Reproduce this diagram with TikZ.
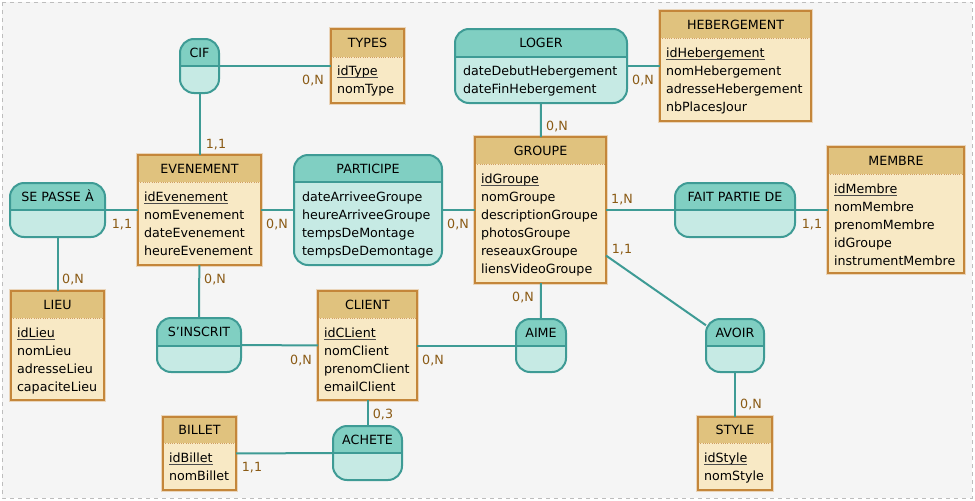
\documentclass[tikz,border=0pt]{standalone}
\usepackage{fontspec}
\setmainfont{DejaVu Sans}

\definecolor{bgc}{HTML}{F5F5F5}
\definecolor{framec}{HTML}{BDBDBD}
\definecolor{enthd}{HTML}{E0C27E}
\definecolor{entbd}{HTML}{F8E9C5}
\definecolor{entln}{HTML}{C4863A}
\definecolor{asshd}{HTML}{80CFC2}
\definecolor{assbd}{HTML}{C6EAE4}
\definecolor{assln}{HTML}{3E9B95}
\definecolor{cardc}{HTML}{8A5A14}

\tikzset{
  txt/.style={inner sep=0pt, outer sep=0pt, font=\fontsize{9.5pt}{11pt}\selectfont,
              text height=6.9pt, text depth=0pt, text=black},
  ttl/.style={txt},
  att/.style={txt, anchor=west},
  card/.style={txt, text=cardc},
  ulst/.style={draw=black!70, line width=0.8pt},
  link/.style={draw=assln, line width=1.5pt},
  boxref/.style={inner sep=0pt, outer sep=0pt, draw=none},
}

% entity: name, x1, y1, x2, y2, header bottom, title
\newcommand\entity[7]{%
  \node[boxref, minimum width={(#4-#2)*0.75pt}, minimum height={(#5-#3)*0.75pt}]
       (#1) at ({(#2+#4)/2},{(#3+#5)/2}) {};
  \draw[entln!35, line width=3pt] (#2,#3) rectangle (#4,#5);
  \fill[entbd] (#2,#3) rectangle (#4,#5);
  \fill[enthd] (#2,#3) rectangle (#4,#6);
  \draw[entln!80, densely dotted, line width=0.7pt] (#2,#6) -- (#4,#6);
  \draw[entln, line width=1.5pt] (#2,#3) rectangle (#4,#5);
  \node[ttl] (#1-t) at ({(#2+#4)/2},{(#3+#6)/2}) {#7};
}

% association: name, x1, y1, x2, y2, divider, title
\newcommand\assoc[7]{%
  \node[boxref, minimum width={(#4-#2)*0.75pt}, minimum height={(#5-#3)*0.75pt}]
       (#1) at ({(#2+#4)/2},{(#3+#5)/2}) {};
  \fill[assbd, rounded corners=10.5pt] (#2,#3) rectangle (#4,#5);
  \begin{scope}
    \clip[rounded corners=10.5pt] (#2,#3) rectangle (#4,#5);
    \fill[asshd] (#2,#3) rectangle (#4,#6);
  \end{scope}
  \draw[assln, line width=0.8pt] (#2,#6) -- (#4,#6);
  \draw[assln, line width=1.5pt, rounded corners=10.5pt] (#2,#3) rectangle (#4,#5);
  \node[ttl] (#1-t) at ({(#2+#4)/2},{(#3+#6)/2}) {#7};
}

% identifier attribute (underlined): name, x, y, text
\newcommand\idattr[4]{%
  \node[att] (#1) at (#2,#3) {#4};
  \draw[ulst] ([yshift=-1.4pt]#1.base west) -- ([yshift=-1.4pt]#1.base east);
}

\begin{document}
\begin{tikzpicture}[x=0.75pt,y=-0.75pt]
\useasboundingbox (0,0) rectangle (975,500);
\fill[white] (0,0) rectangle (975,500);
\filldraw[fill=bgc, draw=framec, dashed, line width=0.6pt] (2,2) rectangle (972,498);

% ---- entities ----
\entity{ev}{138}{155}{261}{265}{182}{EVENEMENT}
\idattr{ev-a1}{144}{197}{idEvenement\ }
\node[att] (ev-a2) at (144,215) {nomEvenement};
\node[att] (ev-a3) at (144,233) {dateEvenement};
\node[att] (ev-a4) at (144,251) {heureEvenement};

\entity{types}{331}{29}{404}{103}{57}{TYPES}
\idattr{ty-a1}{337}{71}{idType}
\node[att] (ty-a2) at (337,89) {nomType};

\entity{heb}{660}{11}{811}{121}{38}{HEBERGEMENT}
\idattr{hb-a1}{666}{53}{idHebergement\ }
\node[att] (hb-a2) at (666,71) {nomHebergement};
\node[att] (hb-a3) at (666,89) {adresseHebergement};
\node[att] (hb-a4) at (666,107) {nbPlacesJour};

\entity{grp}{475}{137}{606}{283}{164}{GROUPE}
\idattr{gr-a1}{481}{179}{idGroupe\ }
\node[att] (gr-a2) at (481,197) {nomGroupe};
\node[att] (gr-a3) at (481,215) {descriptionGroupe};
\node[att] (gr-a4) at (481,233) {photosGroupe};
\node[att] (gr-a5) at (481,251) {reseauxGroupe};
\node[att] (gr-a6) at (481,269) {liensVideoGroupe};

\entity{mem}{828}{147}{964}{273}{174}{MEMBRE}
\idattr{me-a1}{834}{189}{idMembre\ }
\node[att] (me-a2) at (834,207) {nomMembre};
\node[att] (me-a3) at (834,225) {prenomMembre};
\node[att] (me-a4) at (834,243) {idGroupe};
\node[att] (me-a5) at (834,261) {instrumentMembre};

\entity{lieu}{11}{291}{104}{400}{318}{LIEU}
\idattr{li-a1}{17}{333}{idLieu\ }
\node[att] (li-a2) at (17,351) {nomLieu};
\node[att] (li-a3) at (17,369) {adresseLieu};
\node[att] (li-a4) at (17,387) {capaciteLieu};

\entity{cli}{318}{291}{417}{400}{318}{CLIENT}
\idattr{cl-a1}{324}{333}{idCLient\ }
\node[att] (cl-a2) at (324,351) {nomClient};
\node[att] (cl-a3) at (324,369) {prenomClient};
\node[att] (cl-a4) at (324,387) {emailClient};

\entity{bil}{163}{417}{236}{490}{443}{BILLET}
\idattr{bi-a1}{169}{458}{idBillet\ }
\node[att] (bi-a2) at (169,476) {nomBillet};

\entity{sty}{698}{417}{772}{490}{443}{STYLE}
\idattr{st-a1}{704}{458}{idStyle}
\node[att] (st-a2) at (704,476) {nomStyle};

% ---- associations ----
\assoc{cif}{180}{39}{219}{93}{66}{CIF}
\assoc{spa}{10}{183}{105}{237}{210}{SE PASSE À}
\assoc{part}{294}{155}{442}{265}{182}{PARTICIPE}
\node[att] (pa-a1) at (302,197) {dateArriveeGroupe};
\node[att] (pa-a2) at (302,215) {heureArriveeGroupe};
\node[att] (pa-a3) at (302,233) {tempsDeMontage};
\node[att] (pa-a4) at (302,251) {tempsDeDemontage};
\assoc{loger}{455}{29}{627}{103}{57}{LOGER}
\node[att] (lo-a1) at (463,71) {dateDebutHebergement};
\node[att] (lo-a2) at (463,89) {dateFinHebergement};
\assoc{fait}{675}{183}{795}{237}{210}{FAIT PARTIE DE}
\assoc{insc}{157}{318}{241}{372}{346}{S’INSCRIT}
\assoc{aime}{516}{319}{566}{372}{346}{AIME}
\assoc{ach}{333}{426}{402}{480}{453}{ACHETE}
\assoc{avoir}{706}{319}{764}{372}{346}{AVOIR}

% ---- links ----
\draw[link] (cif) -- (types);
\draw[link] (cif) -- (ev);
\draw[link] (spa) -- (ev);
\draw[link] (spa) -- (lieu);
\draw[link] (ev) -- (part);
\draw[link] (part) -- (grp);
\draw[link] (ev) -- (insc);
\draw[link] (insc) -- (cli);
\draw[link] (loger) -- (grp);
\draw[link] (loger) -- (heb);
\draw[link] (grp) -- (fait);
\draw[link] (fait) -- (mem);
\draw[link] (grp) -- (aime);
\draw[link] (cli) -- (aime);
\draw[link] (grp) -- (avoir);
\draw[link] (avoir) -- (sty);
\draw[link] (cli) -- (ach);
\draw[link] (bil) -- (ach);

% ---- cardinalities ----
\node[card] (c1) at (313,80) {0,N};
\node[card] (c2) at (216,144) {1,1};
\node[card] (c3) at (122,224) {1,1};
\node[card] (c4) at (277,224) {0,N};
\node[card] (c5) at (215,279) {0,N};
\node[card] (c6) at (73,279) {0,N};
\node[card] (c7) at (557,126) {0,N};
\node[card] (c8) at (643,80) {0,N};
\node[card] (c9) at (458,224) {0,N};
\node[card] (c10) at (622,199) {1,N};
\node[card] (c11) at (622,249) {1,1};
\node[card] (c12) at (812,224) {1,1};
\node[card] (c13) at (301,360) {0,N};
\node[card] (c14) at (433,360) {0,N};
\node[card] (c15) at (523,297) {0,N};
\node[card] (c16) at (383,414) {0,3};
\node[card] (c17) at (252,467) {1,1};
\node[card] (c18) at (751,404) {0,N};
\end{tikzpicture}
\end{document}
